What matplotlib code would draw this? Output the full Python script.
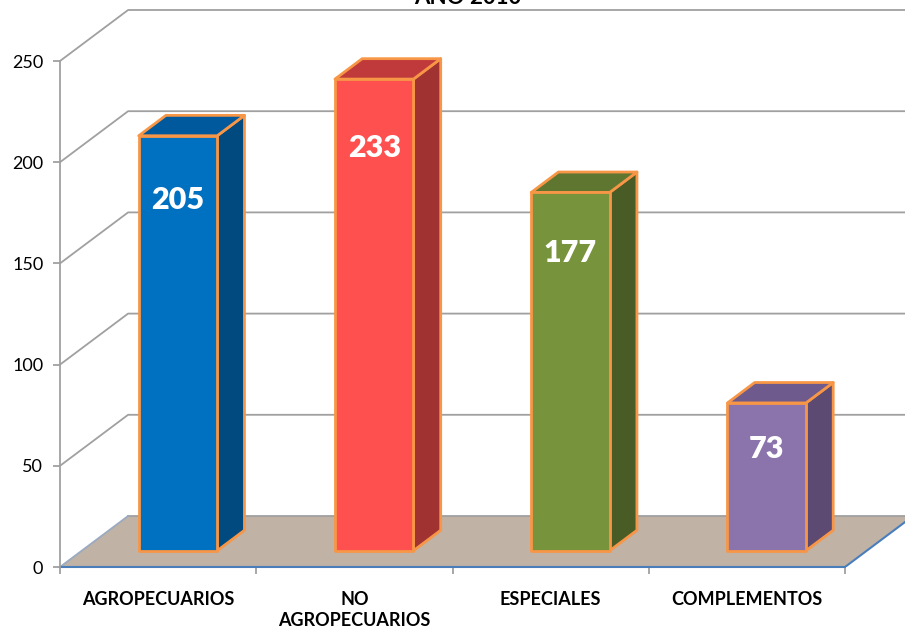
import matplotlib
matplotlib.use("Agg")
import matplotlib.pyplot as plt
from matplotlib.patches import Polygon

plt.rcParams['font.family'] = ['Lato', 'DejaVu Sans']

# data
categories = ["AGROPECUARIOS", "NO\nAGROPECUARIOS", "ESPECIALES", "COMPLEMENTOS"]
values = [205, 233, 177, 73]
yticks = [0, 50, 100, 150, 200, 250]
title = "AÑO 2010"

front_colors = ["#0070C0", "#FF5050", "#77933C", "#8B74AB"]
top_colors = ["#00599C", "#C0393B", "#5E7630", "#6E5A8C"]
side_colors = ["#004A80", "#A03232", "#4A5C25", "#5C4A72"]
edge = "#F79646"
grid_c = "#A0A0A0"

# fake 3d: depth offset in data units (x in categories, y in values)
DX, DY = 0.347, 25.2
d0, d1 = 0.32, 0.72
bw = 0.4


def proj(x, v, d):
    return (x + d * DX, v + d * DY)


fig = plt.figure(figsize=(9.05, 6.29), dpi=100)
ax = fig.add_axes([60 / 905, 62 / 629, 845 / 905, 567 / 629])
ax.set_xlim(0, 845 / 196.25)
ax.set_ylim(0, 567 / 2.024)

n = len(categories)
ymax = yticks[-1]

# floor
floor = Polygon([proj(0, 0, 0), proj(n, 0, 0), proj(n, 0, 1), proj(0, 0, 1)],
                closed=True, facecolor="#C0B2A5", edgecolor="none", zorder=1)
ax.add_patch(floor)
# floor edges
fx, fy = zip(proj(0, 0, 1), proj(n + 0.5, 0, 1))
ax.plot(fx, fy, color=grid_c, lw=1.3, zorder=1.5)
fx, fy = zip(proj(0, 0, 0), proj(0, 0, 1))
ax.plot(fx, fy, color="#9AAAC0", lw=1.3, zorder=1.5)
fx, fy = zip(proj(n, 0, 0), proj(n, 0, 1))
ax.plot(fx, fy, color="#4A7EBB", lw=1.5, zorder=1.5)

# walls: grid lines
for v in yticks[1:]:
    gx, gy = zip(proj(0, v, 0), proj(0, v, 1), proj(n + 0.5, v, 1))
    ax.plot(gx, gy, color=grid_c, lw=1.3, zorder=1.2)

# bars
for i, v in enumerate(values):
    x0 = i + 0.5 - bw / 2 - 0.01
    x1 = x0 + bw
    front = [proj(x0, 0, d0), proj(x1, 0, d0), proj(x1, v, d0), proj(x0, v, d0)]
    top = [proj(x0, v, d0), proj(x1, v, d0), proj(x1, v, d1), proj(x0, v, d1)]
    side = [proj(x1, 0, d0), proj(x1, 0, d1), proj(x1, v, d1), proj(x1, v, d0)]
    for pts, c in [(side, side_colors[i]), (top, top_colors[i]), (front, front_colors[i])]:
        ax.add_patch(Polygon(pts, closed=True, facecolor=c, edgecolor=edge,
                             lw=2, joinstyle="round", zorder=3))
    lx, _ = proj((x0 + x1) / 2, 0, d0)
    ax.text(lx, 0.93 * v - 9.5, str(v), color="white", fontsize=22, fontweight="heavy",
            ha="center", va="center", zorder=4)

# axes
for s in ["top", "right"]:
    ax.spines[s].set_visible(False)
ax.spines["left"].set_bounds(0, ymax)
ax.spines["left"].set_color(grid_c)
ax.spines["left"].set_linewidth(1.3)
ax.spines["bottom"].set_bounds(0, n)
ax.spines["bottom"].set_color("#4A7EBB")
ax.spines["bottom"].set_linewidth(1.5)
ax.spines["bottom"].set_zorder(2)

ax.set_yticks(yticks)
ax.set_yticklabels([str(t) for t in yticks], fontsize=13)
ax.tick_params(axis="y", length=5, color=grid_c, width=1.3, pad=7)

ax.set_xticks([i + 0.5 for i in range(n)])
ax.set_xticklabels(categories, fontsize=13, fontweight="bold", linespacing=1.3)
ax.set_xticks(range(n + 1), minor=True)
ax.tick_params(axis="x", which="major", length=0, pad=17)
ax.tick_params(axis="x", which="minor", length=5, color=grid_c, width=1.3)

fig.text(468 / 905, 1 - 4 / 629, title, ha="center", va="baseline",
         fontsize=16, fontweight="bold")

fig.savefig("out.png", dpi=100)
